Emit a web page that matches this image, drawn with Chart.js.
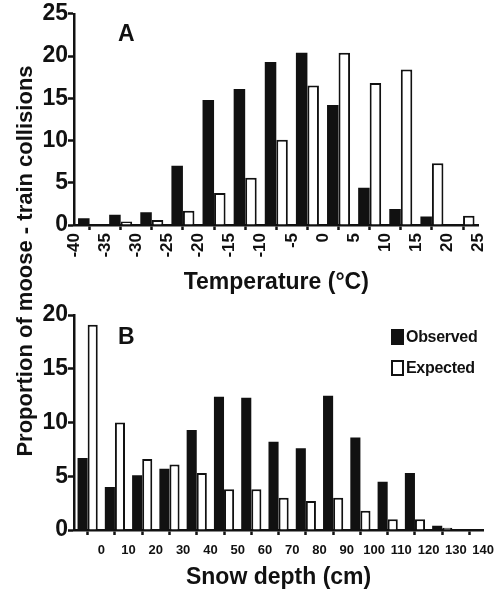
<!DOCTYPE html>
<html>
<head>
<meta charset="utf-8">
<script src="https://cdn.jsdelivr.net/npm/chart.js@4"></script>
<style>
  body { margin:0; background:#fff; }
  #wrap { position:relative; width:502px; height:592px; font-family:"Liberation Sans", Arial, Helvetica, sans-serif; font-weight:bold; color:#111; }
  canvas { position:absolute; left:0; }
  #cA { top:0; }
  #cB { top:290px; }
  .panel { position:absolute; font-size:23px; line-height:1; }
  #ytitle { position:absolute; width:500px; left:-225px; top:248px; text-align:center; font-size:22px; line-height:26px; transform:rotate(-90deg); }
  #legend { position:absolute; left:391px; top:328px; font-size:16px; letter-spacing:-0.3px; }
  #legend div { height:31px; display:flex; align-items:flex-start; }
  #legend span.box { display:inline-block; width:9px; height:12px; border:2px solid #111; margin-right:2px; margin-top:1px; }
</style>
</head>
<body>
<div id="wrap">
  <canvas id="cA" width="502" height="300"></canvas>
  <canvas id="cB" width="502" height="302"></canvas>
  <div class="panel" style="left:118px;top:22px;">A</div>
  <div class="panel" style="left:118px;top:325px;">B</div>
  <div id="ytitle">Proportion of moose - train collisions</div>
  <div id="legend"></div>
</div>
<script>
// bins are given by their lower edge; bars sit in the middle of each bin
const tempBins = [-40, -35, -30, -25, -20, -15, -10, -5, 0, 5, 10, 15, 20];
const tempObserved = [0.8, 1.2, 1.5, 7.0, 14.8, 16.1, 19.3, 20.4, 14.2, 4.4, 1.9, 1.0, 0];
const tempExpected = [0, 0.4, 0.6, 1.7, 3.8, 5.6, 10.1, 16.5, 20.4, 16.8, 18.4, 7.3, 1.1];

const snowBins = [-10, 0, 10, 20, 30, 40, 50, 60, 70, 80, 90, 100, 110, 120, 130];
const snowObserved = [6.7, 4.0, 5.1, 5.7, 9.3, 12.4, 12.3, 8.2, 7.6, 12.5, 8.6, 4.5, 5.3, 0.4, 0];
const snowExpected = [19.1, 10.0, 6.6, 6.1, 5.3, 3.8, 3.8, 3.0, 2.7, 3.0, 1.8, 1.0, 1.0, 0.2, 0];

const seriesNames = ['Observed', 'Expected'];
const FONT = '"Liberation Sans", Arial, Helvetica, sans-serif';
const INK = '#111';

function pts(bins, vals, step) { return bins.map((b, i) => ({ x: b + step / 2, y: vals[i] })); }

function makeChart(id, bins, obs, exp, step, xmin, xmax, ymax, xTitle, opts) {
  const ctx = document.getElementById(id).getContext('2d');
  return new Chart(ctx, {
    type: 'bar',
    data: { datasets: [
      { label: seriesNames[0], data: pts(bins, obs, step), backgroundColor: INK, borderWidth: 0 },
      { label: seriesNames[1], data: pts(bins, exp, step), backgroundColor: '#fff', borderColor: INK, borderWidth: 2 }
    ] },
    options: {
      responsive: false, animation: false,
      categoryPercentage: 0.74, barPercentage: 1.0,
      layout: { padding: { left: 0, right: 15, top: opts.top, bottom: 0 } },
      plugins: { legend: { display: false }, tooltip: { enabled: false } },
      scales: {
        x: {
          type: 'linear', min: xmin, max: xmax, offset: false,
          afterFit: s => { s.height = opts.xh; },
          border: { color: INK, width: 2.5 },
          grid: { drawOnChartArea: false, drawTicks: true, tickLength: 5, tickColor: INK, tickWidth: 2.5 },
          ticks: { stepSize: step, autoSkip: false, color: INK, padding: opts.tickPad,
                   minRotation: opts.rot, maxRotation: opts.rot,
                   font: { family: FONT, weight: 'bold', size: opts.xtick },
                   callback: v => (v < opts.firstLabel ? '' : String(v)) },
          title: { display: true, text: xTitle, color: INK, padding: { top: 0, bottom: opts.titlePad },
                   font: { family: FONT, weight: 'bold', size: 23 } }
        },
        y: {
          min: 0, max: ymax,
          afterFit: s => { s.width = 74; },
          border: { color: INK, width: 2.5 },
          grid: { drawOnChartArea: false, drawTicks: true, tickLength: 6, tickColor: INK, tickWidth: 2.5 },
          ticks: { stepSize: 5, color: INK, padding: 0, font: { family: FONT, weight: 'bold', size: 23 } }
        }
      }
    }
  });
}

makeChart('cA', tempBins, tempObserved, tempExpected, 5, -40, 25, 25, 'Temperature (°C)',
  { top: 12, xh: 75, rot: 90, xtick: 17, tickPad: 3, titlePad: 4, firstLabel: -40 });
const chartB = makeChart('cB', snowBins, snowObserved, snowExpected, 10, -10, 140, 20, 'Snow depth (cm)',
  { top: 25, xh: 62, rot: 0, xtick: 13, tickPad: 8, titlePad: 1, firstLabel: 0 });

// legend built from the chart's datasets
const leg = document.getElementById('legend');
chartB.data.datasets.forEach(ds => {
  const row = document.createElement('div');
  row.innerHTML = '<span class="box" style="background:' + ds.backgroundColor + '"></span>' + ds.label;
  leg.appendChild(row);
});
</script>
</body>
</html>
